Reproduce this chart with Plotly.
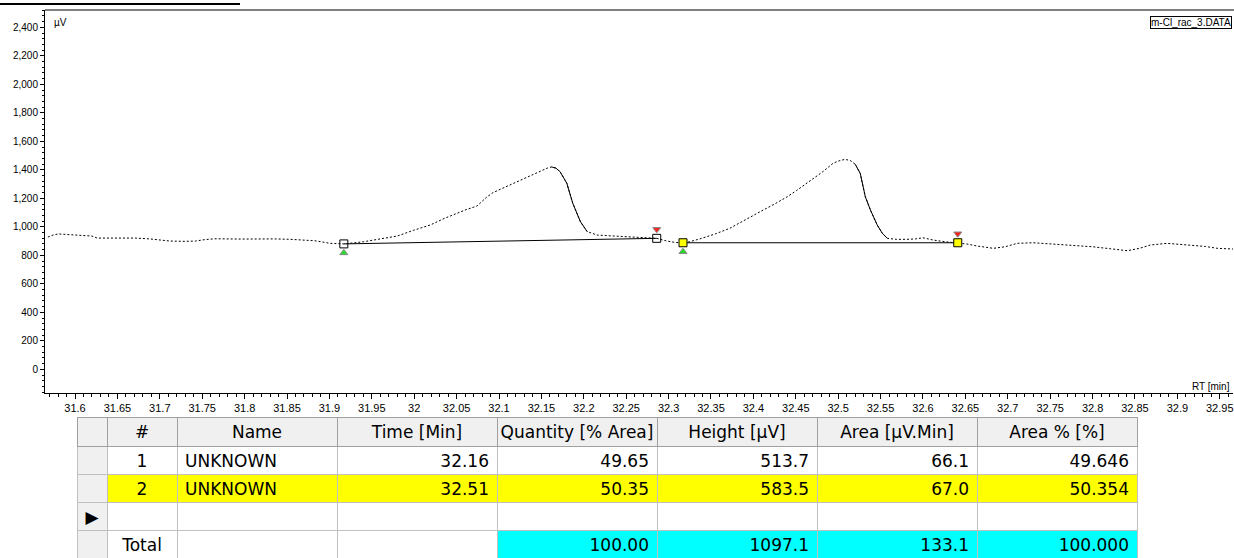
import plotly.graph_objects as go

# ---- chromatogram: retention time (min) and detector signal (µV) ----
rt = [31.568, 31.573, 31.580, 31.594, 31.612, 31.620, 31.626, 31.647, 31.671, 31.688,
      31.712, 31.730, 31.742, 31.753, 31.765, 31.795, 31.818, 31.836, 31.854, 31.871,
      31.883, 31.901, 31.917, 31.930, 31.940, 31.960, 31.980, 31.999, 32.019, 32.036,
      32.050, 32.062, 32.074, 32.086, 32.093, 32.113, 32.137, 32.148, 32.157, 32.162,
      32.167, 32.172, 32.180, 32.187, 32.196, 32.204, 32.216, 32.233, 32.254, 32.272,
      32.286, 32.298, 32.308, 32.317, 32.325, 32.339, 32.355, 32.372, 32.390, 32.408,
      32.425, 32.440, 32.451, 32.463, 32.473, 32.482, 32.494, 32.502, 32.508, 32.514,
      32.520, 32.526, 32.532, 32.538, 32.546, 32.552, 32.558, 32.569, 32.581, 32.591,
      32.600, 32.612, 32.626, 32.641, 32.652, 32.664, 32.683, 32.697, 32.711, 32.730,
      32.744, 32.762, 32.779, 32.800, 32.821, 32.841, 32.856, 32.868, 32.888, 32.903,
      32.915, 32.933, 32.947, 32.966]
signal = [928, 940, 950, 945, 942, 935, 921, 922, 921, 915,
          900, 898, 900, 910, 916, 914, 916, 915, 912, 906,
          902, 884, 880, 888, 895, 915, 935, 975, 1013, 1060,
          1095, 1122, 1146, 1211, 1240, 1293, 1356, 1390, 1412, 1420,
          1412, 1387, 1305, 1165, 1036, 966, 942, 936, 931, 924,
          919, 900, 890, 888, 895, 919, 950, 989, 1045, 1106,
          1160, 1211, 1255, 1305, 1345, 1387, 1446, 1465, 1473, 1466,
          1440, 1375, 1211, 1118, 1013, 955, 919, 912, 912, 915,
          923, 907, 895, 888, 879, 865, 849, 860, 884, 888,
          882, 877, 870, 860, 846, 832, 850, 872, 884, 878,
          872, 862, 849, 844]

# ---- integration baselines ----
peak_start_rt = [31.917, 32.317]
peak_start_uv = [880, 888]
peak_end_rt = [32.286, 32.641]
peak_end_uv = [919, 888]
selected_peak = 1

# ---- peak table ----
peak_no = [1, 2]
peak_name = ["UNKNOWN", "UNKNOWN"]
peak_time = [32.16, 32.51]
quantity_pct = [49.65, 50.35]
height_uv = [513.7, 583.5]
area_uv_min = [66.1, 67.0]
area_pct = [49.646, 50.354]
total_quantity = 100.00
total_height = 1097.1
total_area = 133.1
total_area_pct = 100.000
table_headers = ["", "#", "Name", "Time [Min]", "Quantity [% Area]",
                 "Height [µV]", "Area [µV.Min]", "Area % [%]"]

# ---- axis ticks ----
x_ticktext = ["31.6", "31.65", "31.7", "31.75", "31.8", "31.85", "31.9", "31.95",
              "32", "32.05", "32.1", "32.15", "32.2", "32.25", "32.3", "32.35",
              "32.4", "32.45", "32.5", "32.55", "32.6", "32.65", "32.7", "32.75",
              "32.8", "32.85", "32.9", "32.95"]
y_ticktext = ["0", "200", "400", "600", "800", "1,000", "1,200", "1,400",
              "1,600", "1,800", "2,000", "2,200", "2,400"]
x_tickvals = [float(s) for s in x_ticktext]
y_tickvals = [int(s.replace(",", "")) for s in y_ticktext]

# ---- page geometry (px) ----
W, H = 1234, 558
plot_left, plot_right, plot_top, plot_bottom = 45, 1233, 10, 393
x_range = [31.5646, 32.9656]
y_range = [-166.3, 2521.4]
uv_per_px = (y_range[1] - y_range[0]) / (plot_bottom - plot_top)

fig = go.Figure()

# signal trace, dotted
fig.add_trace(go.Scatter(x=rt, y=signal, mode="lines",
                         line=dict(color="black", width=1, dash="2px,2px"),
                         hoverinfo="skip"))

# steep flanks render as solid strokes
steep_windows = [(32.160, 32.206), (32.516, 32.560)]
solid_x, solid_y = [], []
for lo, hi in steep_windows:
    for t, v in zip(rt, signal):
        if lo <= t <= hi:
            solid_x.append(t)
            solid_y.append(v)
    solid_x.append(None)
    solid_y.append(None)
fig.add_trace(go.Scatter(x=solid_x, y=solid_y, mode="lines",
                         line=dict(color="black", width=1), hoverinfo="skip"))

# baselines
for i in range(len(peak_start_rt)):
    fig.add_trace(go.Scatter(x=[peak_start_rt[i], peak_end_rt[i]],
                             y=[peak_start_uv[i], peak_end_uv[i]],
                             mode="lines", line=dict(color="black", width=1),
                             hoverinfo="skip"))

# start / end flags
arrow_off = 9 * uv_per_px
fig.add_trace(go.Scatter(x=peak_start_rt, y=[v - arrow_off for v in peak_start_uv],
                         mode="markers",
                         marker=dict(symbol="triangle-up", size=7, color="#22dd22",
                                     line=dict(color="#888888", width=1)),
                         hoverinfo="skip"))
fig.add_trace(go.Scatter(x=peak_end_rt, y=[v + arrow_off for v in peak_end_uv],
                         mode="markers",
                         marker=dict(symbol="triangle-down", size=7, color="#ff2020",
                                     line=dict(color="#888888", width=1)),
                         hoverinfo="skip"))

# baseline end-point boxes
box_fill = ["#ffff00" if i == selected_peak else "rgba(255,255,255,0)"
            for i in range(len(peak_start_rt))]
fig.add_trace(go.Scatter(x=peak_start_rt + peak_end_rt,
                         y=peak_start_uv + peak_end_uv, mode="markers",
                         marker=dict(symbol="square", size=8, color=box_fill + box_fill,
                                     line=dict(color="black", width=1)),
                         hoverinfo="skip"))

# ---- peak table ----
fmt = lambda vals, d: [f"{v:.{d}f}" for v in vals]
nobreak = lambda s: s.replace(" ", "\u00a0")
col_sel = ["", "", "\u25B6", ""]
col_no = [str(n) for n in peak_no] + ["", "Total"]
col_name = peak_name + ["", ""]
col_time = fmt(peak_time, 2) + ["", ""]
col_qty = fmt(quantity_pct, 2) + ["", f"{total_quantity:.2f}"]
col_height = fmt(height_uv, 1) + ["", f"{total_height:.1f}"]
col_area = fmt(area_uv_min, 1) + ["", f"{total_area:.1f}"]
col_apct = fmt(area_pct, 3) + ["", f"{total_area_pct:.3f}"]
columns = [col_sel, col_no, col_name, col_time, col_qty, col_height, col_area, col_apct]

GRAY, WHITE, YEL, CYAN = "#f0f0f0", "#ffffff", "#ffff00", "#00ffff"
fills = []
for ci in range(len(columns)):
    colfill = []
    for ri in range(4):
        if ci == 0:
            c = GRAY
        elif ri == selected_peak:
            c = YEL
        elif ri == 3 and ci >= 4:
            c = CYAN
        else:
            c = WHITE
        colfill.append(c)
    fills.append(colfill)

tbl_left, tbl_right, tbl_top = 77, 1137, 417
fig.add_trace(go.Table(
    domain=dict(x=[tbl_left / W, tbl_right / W], y=[0, 1 - tbl_top / H]),
    columnwidth=[30, 70, 160, 160, 160, 160, 160, 160],
    header=dict(values=[nobreak(h) for h in table_headers], height=29, align="center",
                fill=dict(color=GRAY), line=dict(color="#a0a0a0", width=1),
                font=dict(family="DejaVu Sans", size=17, color="black")),
    cells=dict(values=columns, height=28,
               align=["center", "center", "left", "right", "right", "right", "right", "right"],
               fill=dict(color=fills), line=dict(color="#c0c0c0", width=1),
               font=dict(family="DejaVu Sans", size=17, color="black")),
))

fig.update_layout(
    width=W, height=H, margin=dict(l=0, r=0, t=0, b=0),
    paper_bgcolor="white", plot_bgcolor="white", showlegend=False,
    font=dict(family="Liberation Sans, Arial, sans-serif", color="black"),
    xaxis=dict(domain=[plot_left / W, plot_right / W], range=x_range,
               tickvals=x_tickvals, ticktext=x_ticktext, tickfont=dict(size=11),
               ticks="outside", ticklen=5, tickcolor="black",
               showline=True, linecolor="black", linewidth=1,
               showgrid=False, zeroline=False,
               minor=dict(dtick=0.01, tick0=31.6, ticks="outside", ticklen=3,
                          tickcolor="black", showgrid=False)),
    yaxis=dict(domain=[1 - plot_bottom / H, 1 - plot_top / H], range=y_range,
               tickvals=y_tickvals, ticktext=y_ticktext, tickfont=dict(size=10),
               ticks="outside", ticklen=4, tickcolor="black",
               showline=True, linecolor="black", linewidth=1,
               showgrid=False, zeroline=False,
               minor=dict(dtick=40, tick0=0, ticks="outside", ticklen=2,
                          tickcolor="black", showgrid=False)),
)

# frame top edge and heading underline
fig.add_shape(type="line", xref="paper", yref="paper",
              x0=plot_left / W, x1=1, y0=1 - plot_top / H, y1=1 - plot_top / H,
              line=dict(color="#808080", width=2))
fig.add_shape(type="line", xref="paper", yref="paper",
              x0=0, x1=240 / W, y0=1 - 4 / H, y1=1 - 4 / H,
              line=dict(color="black", width=2))

fig.add_annotation(text="µV", xref="paper", yref="paper", x=52 / W, y=1 - 22 / H,
                   xanchor="left", yanchor="middle", showarrow=False,
                   font=dict(size=10))
fig.add_annotation(text="RT [min]", xref="paper", yref="paper", x=1232 / W,
                   y=1 - 386 / H, xanchor="right", yanchor="middle",
                   showarrow=False, font=dict(size=10))
fig.add_annotation(text="m-Cl_rac_3.DATA", xref="paper", yref="paper", x=1232 / W,
                   y=1 - 22 / H, xanchor="right", yanchor="middle",
                   showarrow=False, font=dict(size=10),
                   bordercolor="black", borderwidth=1, borderpad=0)

fig.write_html("out.html")
